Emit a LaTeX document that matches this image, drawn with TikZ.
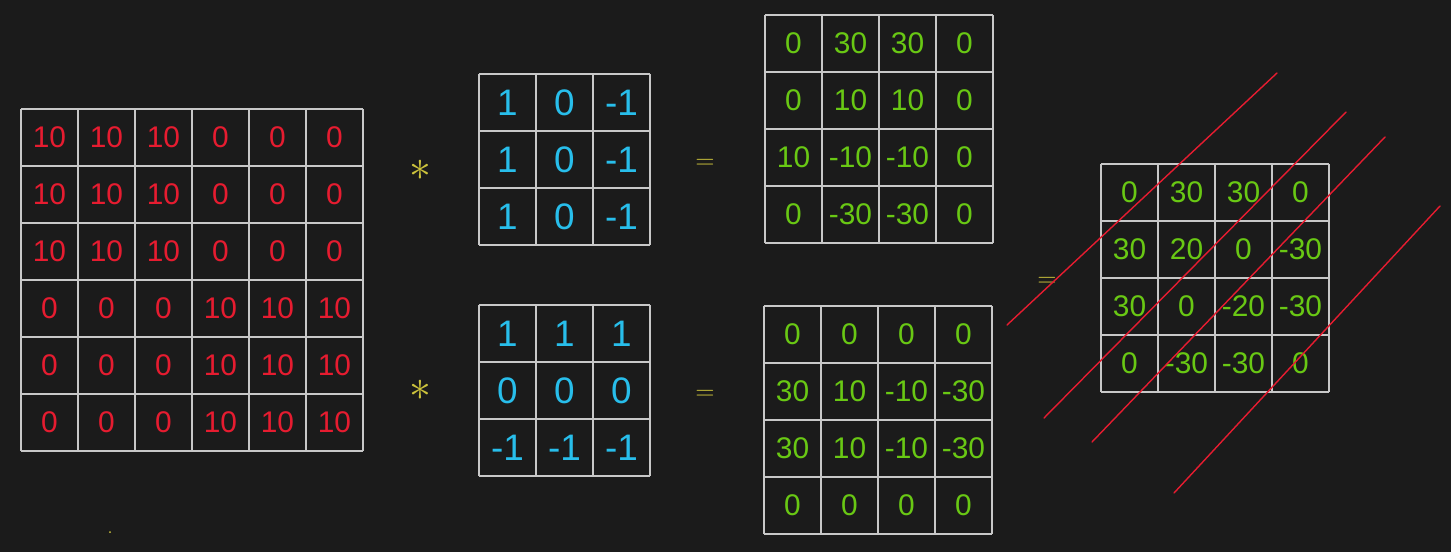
\documentclass[tikz,border=0pt]{standalone}
\usepackage{fontspec}
\setmainfont{Liberation Sans}
\usetikzlibrary{calc}

\definecolor{board}{RGB}{27,27,27}
\definecolor{gridgray}{RGB}{200,200,200}
\definecolor{inred}{RGB}{230,28,48}
\definecolor{kernblue}{RGB}{40,190,235}
\definecolor{outgreen}{RGB}{105,200,20}
\definecolor{opyellow}{RGB}{205,195,60}

\begin{document}
\begin{tikzpicture}[x=0.02cm, y=-0.02cm,
  cellgrid/.style={draw=gridgray, line width=1.1pt},
  inval/.style={text=inred, font=\fontsize{17}{17}\selectfont},
  kval/.style={text=kernblue, font=\fontsize{21}{21}\selectfont},
  outval/.style={text=outgreen, font=\fontsize{17}{17}\selectfont},
  opsign/.style={text=opyellow, font=\fontsize{14}{14}\selectfont},
  strike/.style={draw=inred, line width=0.8pt, line cap=round}]
\fill[board] (0,0) rectangle (1451,552);

% input image
\foreach \i in {0,...,6}
  \draw[cellgrid] (21+57*\i,109) -- (21+57*\i,451) (21,109+57*\i) -- (363,109+57*\i);
\foreach \row [count=\r] in {{10,10,10,0,0,0},{10,10,10,0,0,0},{10,10,10,0,0,0},{0,0,0,10,10,10},{0,0,0,10,10,10},{0,0,0,10,10,10}}
  \foreach \v [count=\c] in \row
    \node[inval] (in-\r-\c) at (21+57*\c-28.5, 109+57*\r-28.5) {\v};

% kernels
\foreach \i in {0,...,3} {
  \draw[cellgrid] (479+57*\i,74) -- (479+57*\i,245) (479,74+57*\i) -- (650,74+57*\i);
  \draw[cellgrid] (479+57*\i,305) -- (479+57*\i,476) (479,305+57*\i) -- (650,305+57*\i);
}
\foreach \row [count=\r] in {{1,0,-1},{1,0,-1},{1,0,-1}}
  \foreach \v [count=\c] in \row
    \node[kval] (kv-\r-\c) at (479+57*\c-28.5, 74+57*\r-28.5) {\v};
\foreach \row [count=\r] in {{1,1,1},{0,0,0},{-1,-1,-1}}
  \foreach \v [count=\c] in \row
    \node[kval] (kh-\r-\c) at (479+57*\c-28.5, 305+57*\r-28.5) {\v};

% feature maps
\foreach \i in {0,...,4} {
  \draw[cellgrid] (765+57*\i,15) -- (765+57*\i,243) (765,15+57*\i) -- (993,15+57*\i);
  \draw[cellgrid] (764+57*\i,306) -- (764+57*\i,534) (764,306+57*\i) -- (992,306+57*\i);
  \draw[cellgrid] (1101+57*\i,164) -- (1101+57*\i,392) (1101,164+57*\i) -- (1329,164+57*\i);
}
\foreach \row [count=\r] in {{0,30,30,0},{0,10,10,0},{10,-10,-10,0},{0,-30,-30,0}}
  \foreach \v [count=\c] in \row
    \node[outval] (fv-\r-\c) at (765+57*\c-28.5, 15+57*\r-28.5) {\v};
\foreach \row [count=\r] in {{0,0,0,0},{30,10,-10,-30},{30,10,-10,-30},{0,0,0,0}}
  \foreach \v [count=\c] in \row
    \node[outval] (fh-\r-\c) at (764+57*\c-28.5, 306+57*\r-28.5) {\v};
\foreach \row [count=\r] in {{0,30,30,0},{30,20,0,-30},{30,0,-20,-30},{0,-30,-30,0}}
  \foreach \v [count=\c] in \row
    \node[outval] (fs-\r-\c) at (1101+57*\c-28.5, 164+57*\r-28.5) {\v};

% operators
\node[opsign, font=\fontsize{26}{26}\selectfont] (conv-top) at (420,170) {$\ast$};
\node[opsign, font=\fontsize{26}{26}\selectfont] (conv-bot) at (420,390) {$\ast$};
\node[opsign] (eq-top) at (705,164) {$=$};
\node[opsign] (eq-bot) at (705,395) {$=$};
\node[opsign] (eq-sum) at (1047,282) {$=$};
\fill[opyellow] (110,532) circle (1);

% strike-through
\draw[strike] (1007,325) -- (1277,73);
\draw[strike] (1044,418) -- (1346,112);
\draw[strike] (1092,442) -- (1385,137);
\draw[strike] (1174,493) -- (1440,206);
\end{tikzpicture}
\end{document}
